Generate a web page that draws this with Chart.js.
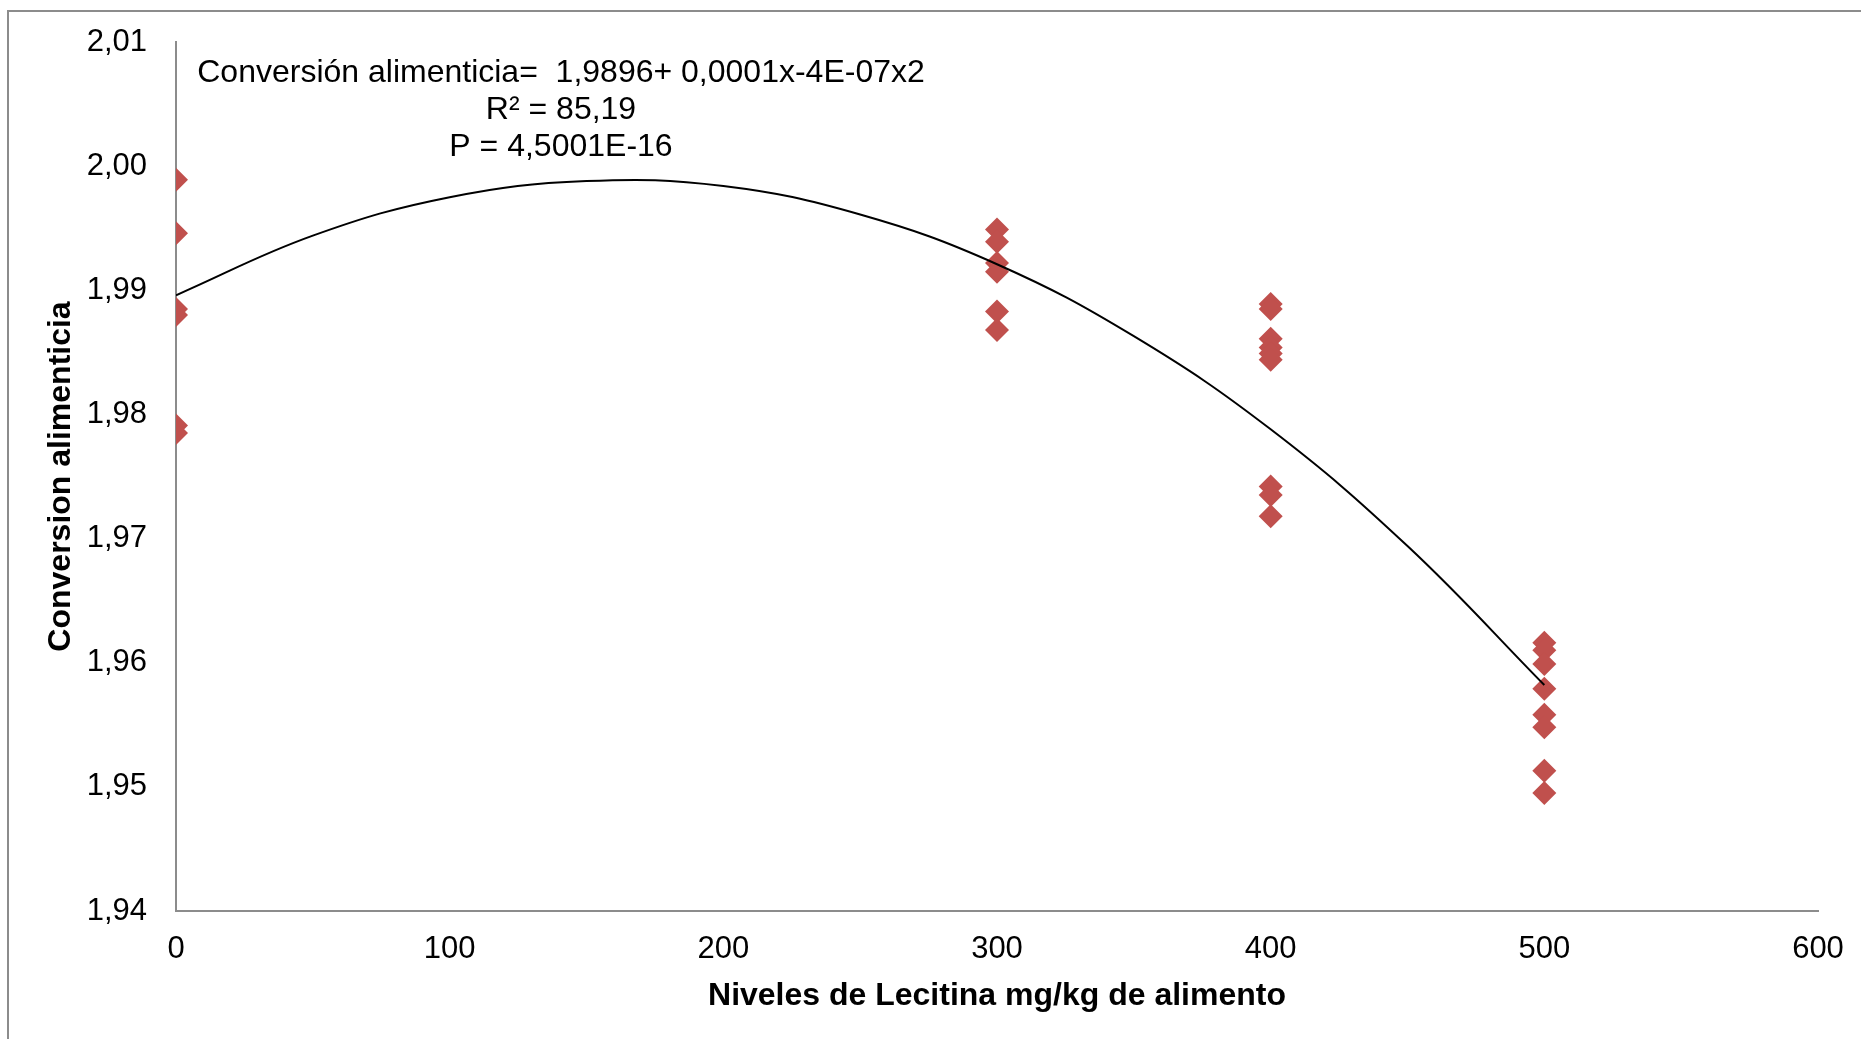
<!DOCTYPE html>
<html lang="es">
<head>
<meta charset="utf-8">
<title>Conversión alimenticia según niveles de lecitina</title>
<script src="https://cdn.jsdelivr.net/npm/chart.js@4/dist/chart.umd.min.js"></script>
<style>
  html, body { margin: 0; padding: 0; background: #fff; overflow: hidden; }
  #wrap { position: relative; width: 1861px; height: 1039px; }
  #frame {
    position: absolute; left: 7px; top: 10px; width: 2000px; height: 2000px;
    border-left: 2px solid #8c8c8c; border-top: 2px solid #8c8c8c;
    pointer-events: none;
  }
  canvas { position: absolute; left: 0; top: 0; }
</style>
</head>
<body>
<div id="wrap">
  <div id="frame"></div>
  <canvas id="chart" width="1861" height="1039"></canvas>
</div>
<script>
// Lecithin levels (mg/kg of feed) and measured feed conversion per level
const niveles = [0, 300, 400, 500];
const conv0   = [1.9989, 1.9946, 1.9885, 1.9880, 1.9791, 1.9785];
const conv300 = [1.9949, 1.9939, 1.9922, 1.9915, 1.9883, 1.9868];
const conv400 = [1.9889, 1.9885, 1.9861, 1.9854, 1.9849, 1.9844, 1.9742, 1.9735, 1.9718];
const conv500 = [1.9616, 1.9610, 1.9599, 1.9579, 1.9558, 1.9548, 1.9513, 1.9495];

// Quadratic trend line sampled along the x range
const curvaX = [0, 50, 100, 150, 200, 250, 300, 350, 400, 450, 500];
const curvaY = [1.9896, 1.9944, 1.9975, 1.9988, 1.9984, 1.9961, 1.9921, 1.9863, 1.9788, 1.9694, 1.9582];

// Axis ticks
const ticksX = [0, 100, 200, 300, 400, 500, 600];
const ticksY = [1.94, 1.95, 1.96, 1.97, 1.98, 1.99, 2.00, 2.01];

// Equation text shown above the curve
const ecuacion = [
  'Conversión alimenticia=  1,9896+ 0,0001x-4E-07x2',
  'R² = 85,19',
  'P = 4,5001E-16'
];

const grupos = [conv0, conv300, conv400, conv500];
const puntos = [];
grupos.forEach((vals, i) => vals.forEach(v => puntos.push({ x: niveles[i], y: v })));
const curva = curvaX.map((x, i) => ({ x: x, y: curvaY[i] }));

const FONT = 'Liberation Sans, Arial, sans-serif';
const AXIS_COLOR = '#8c8c8c';

const ecuacionPlugin = {
  id: 'ecuacion',
  afterDraw(chart) {
    const ctx = chart.ctx;
    ctx.save();
    ctx.fillStyle = '#000';
    ctx.font = '32px ' + FONT;
    ctx.textAlign = 'center';
    ctx.textBaseline = 'middle';
    ecuacion.forEach((t, i) => ctx.fillText(t, 561, 73 + i * 37));
    ctx.restore();
  }
};

// Keep tick labels from pushing the plot area inward
function sinDesborde(scale) {
  scale.paddingTop = 0;
  scale.paddingBottom = 0;
  scale.paddingLeft = 0;
  scale.paddingRight = 0;
}

new Chart(document.getElementById('chart'), {
  type: 'scatter',
  data: {
    datasets: [
      {
        type: 'line',
        label: 'Tendencia',
        data: curva,
        borderColor: '#000',
        borderWidth: 2,
        pointRadius: 0,
        fill: false,
        tension: 0.4
      },
      {
        label: 'Conversión alimenticia',
        data: puntos,
        pointStyle: 'rectRot',
        pointRadius: 12,
        pointHoverRadius: 12,
        backgroundColor: '#C0504D',
        borderColor: '#C0504D',
        borderWidth: 0
      }
    ]
  },
  options: {
    responsive: false,
    animation: false,
    events: [],
    layout: {
      autoPadding: false,
      padding: { top: 42, right: 43, bottom: 0, left: 0 }
    },
    plugins: {
      legend: { display: false },
      tooltip: { enabled: false }
    },
    scales: {
      x: {
        type: 'linear',
        min: 0,
        max: 600,
        afterFit(scale) { scale.height = 128; sinDesborde(scale); },
        afterBuildTicks(scale) { scale.ticks = ticksX.map(v => ({ value: v })); },
        grid: { display: false, drawTicks: false },
        border: { display: true, color: AXIS_COLOR, width: 2 },
        ticks: {
          padding: 20,
          color: '#000',
          font: { family: FONT, size: 31 },
          callback: v => String(v)
        },
        title: {
          display: true,
          text: 'Niveles de Lecitina mg/kg de alimento',
          color: '#000',
          font: { family: FONT, size: 32, weight: 'bold' },
          padding: { top: 0, bottom: 24 }
        }
      },
      y: {
        type: 'linear',
        min: 1.94,
        max: 2.01,
        afterFit(scale) { scale.width = 176; sinDesborde(scale); },
        afterBuildTicks(scale) { scale.ticks = ticksY.map(v => ({ value: v })); },
        grid: { display: false, drawTicks: false },
        border: { display: true, color: AXIS_COLOR, width: 2 },
        ticks: {
          padding: 29,
          color: '#000',
          font: { family: FONT, size: 31 },
          callback: v => Number(v).toFixed(2).replace('.', ',')
        },
        title: {
          display: true,
          text: 'Conversion alimenticia',
          color: '#000',
          font: { family: FONT, size: 32, weight: 'bold' },
          padding: { top: 42, bottom: 0 }
        }
      }
    }
  },
  plugins: [ecuacionPlugin]
});
</script>
</body>
</html>
